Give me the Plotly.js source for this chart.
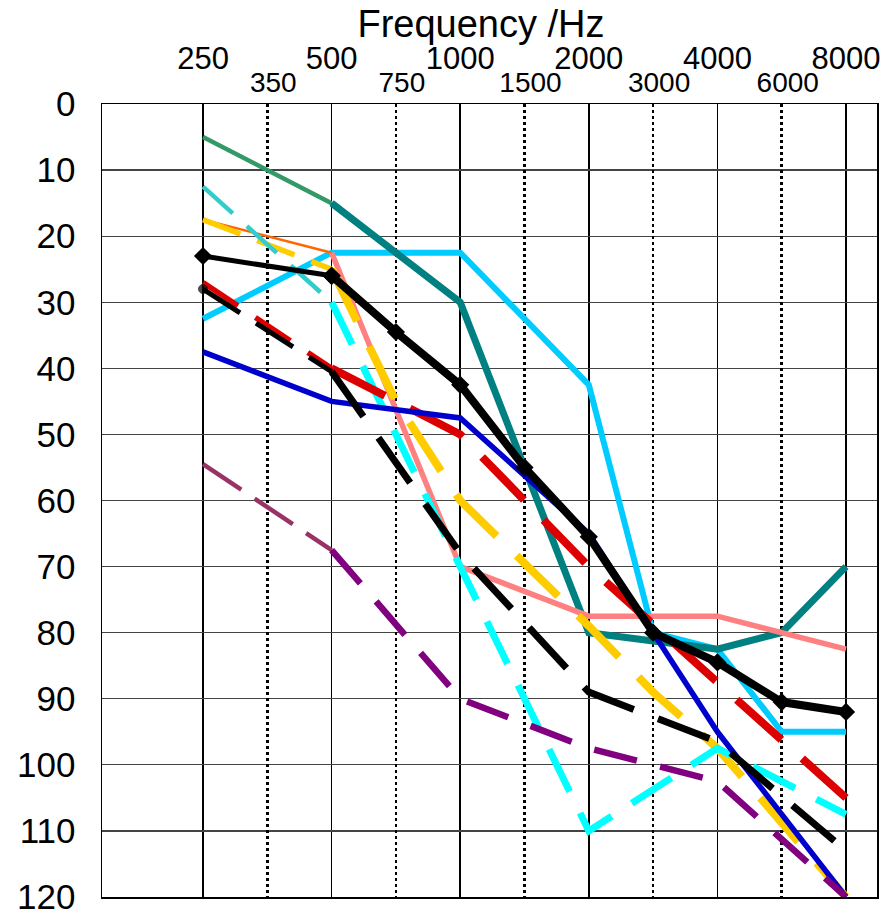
<!DOCTYPE html>
<html>
<head>
<meta charset="utf-8">
<script src="https://cdn.plot.ly/plotly-3.0.1.min.js"></script>
<style>html,body{margin:0;padding:0;background:#fff;}#chart{width:887px;height:912px;}</style>
</head>
<body>
<div id="chart"></div>
<script>
// Frequencies (Hz) – category positions on the audiogram
const freqs = [250, 350, 500, 750, 1000, 1500, 2000, 3000, 4000, 6000, 8000];
const mainTicks = ['250', '500', '1000', '2000', '4000', '8000'];
const midTicks = ['350', '750', '1500', '3000', '6000'];
const yTicks = [0, 10, 20, 30, 40, 50, 60, 70, 80, 90, 100, 110, 120];
const N = null;

// Hearing thresholds (dB), one value per frequency above (null = not measured)
const greenA   = [5,    N, 15,   N,    N,    N,  N,    N,    N,    N,    N];
const tealA    = [N,    N, 15,   N,    30,   N,  80,   N,    82.5, 80,   70];
const skyB     = [32.5, N, 22.5, N,    22.5, N,  42.5, 80,   82.5, 95,   95];
const orangeC  = [17.5, N, 22.5, N,    N,    N,  N,    N,    N,    N,    N];
const pinkC    = [N,    N, 22.5, N,    70,   N,  77.5, N,    77.5, N,    82.5];
const turqD    = [12.5, N, 30,   N,    N,    N,  N,    N,    N,    N,    N];
const cyanD    = [N,    N, 30,   N,    70,   N,  110,  N,    97.5, N,    107.5];
const goldE1   = [17.5, N, 25,   N,    N,    N,  N,    N,    N,    N,    N];
const goldE    = [N,    N, 25,   45,   60,   N,  79,   89,   97.5, N,    120];
const redF1    = [27,   N, 40,   N,    N,    N,  N,    N,    N,    N,    N];
const redF     = [N,    N, 40,   N,    50,   N,  70,   N,    87.5, N,    105];
const blueG    = [37.5, N, 45,   N,    47.5, N,  65,   N,    95,   N,    120];
const blackH1  = [23,   N, 26,   N,    N,    N,  N,    N,    N,    N,    N];
const blackH   = [N,    N, 26,   34.5, 42.5, 55, 65.5, 80,   84.5, 90.5, 92];
const blackI1  = [28,   N, 40.5, N,    N,    N,  N,    N,    N,    N,    N];
const blackI   = [N,    N, 40.5, N,    68,   N,  89,   N,    96.5, N,    113];
const plumJ    = [54.5, N, 67.5, N,    N,    N,  N,    N,    N,    N,    N];
const purpleJ  = [N,    N, 67.5, N,    90,   N,  97.5, N,    102.5,N,    120];

const xcat = freqs.map(String);

function line(y, color, width, dash, extra) {
  return Object.assign({
    type: 'scatter', mode: 'lines', x: xcat, y: y, connectgaps: true,
    line: {color: color, width: width, dash: dash || 'solid'},
    showlegend: false, hoverinfo: 'skip'
  }, extra || {});
}

const traces = [
  // helper trace so the second (intermediate) axis knows the categories
  {type: 'scatter', mode: 'lines', x: xcat, y: freqs.map(() => null), xaxis: 'x2', yaxis: 'y', showlegend: false, hoverinfo: 'skip'},
  line(skyB, '#00CCFF', 6),
  line(greenA, '#339966', 4.5),
  line(tealA, '#008080', 7),
  line(orangeC, '#FF6600', 2.5),
  line(pinkC, '#FF8080', 5.5),
  line(goldE1, '#FFCC00', 5.5, '40px,18px'),
  line(goldE, '#FFCC00', 8, '58px,28px'),
  line(turqD, '#33CCCC', 4.5, '40px,19px'),
  line(cyanD, '#00FFFF', 7, '47px,24px'),
  line(redF1, '#DD0000', 5.5, '42px,21px'),
  line(redF, '#DD0000', 8, '60px,28px'),
  line(blueG, '#0000CC', 5.5),
  line(blackI1, '#000000', 5, '44px,19px', {mode: 'lines+markers', marker: {symbol: 'circle', size: [9, 0, 0], color: '#000'}}),
  line(blackI, '#000000', 7, '55px,26px'),
  line(plumJ, '#993366', 4.5, '46px,16px'),
  line(purpleJ, '#800080', 6.5, '44px,24px'),
  line(blackH1, '#000000', 5, 'solid', {mode: 'lines+markers', marker: {symbol: 'diamond', size: 14, color: '#000'}}),
  line(blackH, '#000000', 8, 'solid', {mode: 'lines+markers', marker: {symbol: 'diamond', size: 14, color: '#000'}})
];

const FONT = 'Arial, Liberation Sans, sans-serif';
const xRange = [-1.571, 10.482];

const layout = {
  width: 887, height: 912,
  margin: {l: 102, r: 10, t: 104, b: 15, pad: 0},
  paper_bgcolor: '#ffffff', plot_bgcolor: '#ffffff',
  font: {family: FONT, color: '#000'},
  title: {
    text: 'Frequency /Hz',
    font: {family: FONT, size: 38, color: '#000', weight: 'normal'},
    x: 481 / 887, xref: 'container', xanchor: 'center',
    y: 1 - 24 / 912, yref: 'container', yanchor: 'middle'
  },
  xaxis: {
    type: 'category', categoryorder: 'array', categoryarray: xcat,
    range: xRange, side: 'top',
    tickmode: 'array', tickvals: mainTicks, ticktext: mainTicks,
    ticks: '', ticklabelstandoff: 21, ticklabeloverflow: 'allow',
    tickfont: {family: FONT, size: 31, color: '#000', weight: 'normal'},
    showgrid: true, gridcolor: '#000', gridwidth: 1.5,
    showline: true, linecolor: '#000', linewidth: 1.5, mirror: true,
    zeroline: false, fixedrange: true
  },
  xaxis2: {
    type: 'category', categoryorder: 'array', categoryarray: xcat,
    range: xRange, side: 'top', overlaying: 'x', anchor: 'y',
    tickmode: 'array', tickvals: midTicks, ticktext: midTicks,
    ticks: '', ticklabelstandoff: 5, ticklabelshift: 6, ticklabeloverflow: 'allow',
    tickfont: {family: FONT, size: 28, color: '#000', weight: 'normal'},
    showgrid: true, gridcolor: '#000', gridwidth: 2.5, griddash: 'dot',
    showline: false, zeroline: false, fixedrange: true
  },
  yaxis: {
    range: [120, 0], tickmode: 'array', tickvals: yTicks, ticktext: yTicks.map(String),
    ticks: '', ticklabelstandoff: 18, ticklabeloverflow: 'allow',
    tickfont: {family: FONT, size: 35, color: '#000', weight: 'normal'},
    showgrid: true, gridcolor: '#444', gridwidth: 1.3,
    showline: true, linecolor: '#000', linewidth: 1.5, mirror: true,
    zeroline: false, fixedrange: true
  }
};

Plotly.newPlot('chart', traces, layout, {displayModeBar: false, staticPlot: true});
</script>
</body>
</html>
